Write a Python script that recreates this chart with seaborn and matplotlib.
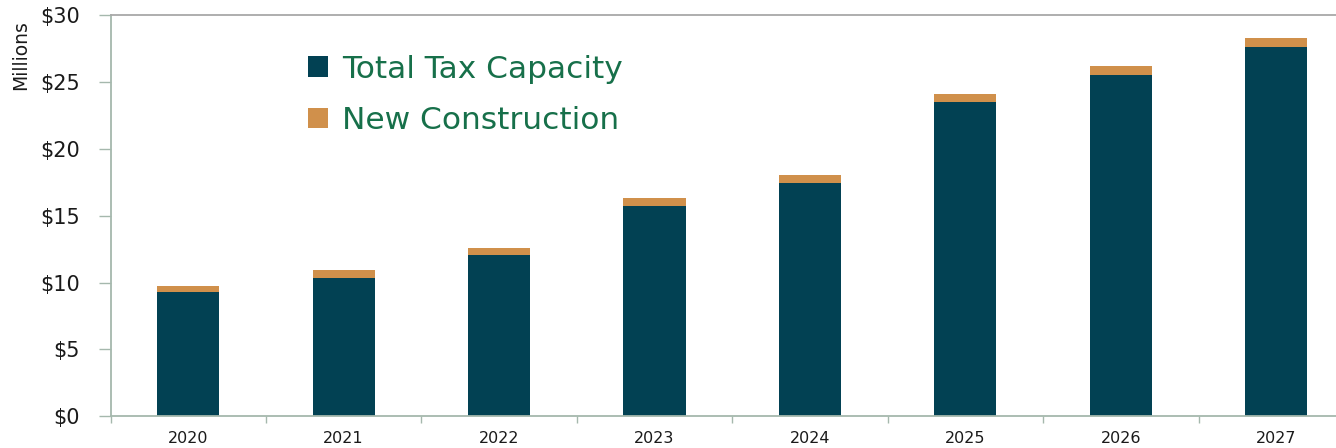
import matplotlib
matplotlib.use("Agg")
import matplotlib.pyplot as plt
from matplotlib.patches import Patch
from matplotlib.ticker import FixedLocator
import seaborn as sns
import pandas as pd

# Tax capacity by year, in millions of dollars
years = ["2020", "2021", "2022", "2023", "2024", "2025", "2026", "2027"]
total_tax_capacity = [9.32, 10.37, 12.07, 15.70, 17.45, 23.50, 25.58, 27.63]
new_construction = [0.45, 0.56, 0.53, 0.63, 0.63, 0.65, 0.67, 0.65]
y_ticks = [0, 5, 10, 15, 20, 25, 30]
y_tick_labels = ["$0", "$5", "$10", "$15", "$20", "$25", "$30"]

DARK = "#024153"
ORANGE = "#D0904B"
GREEN_TEXT = "#17704A"
SPINE = "#A5B8AD"

sns.set_theme(style="white")
plt.rcParams["font.family"] = ["DejaVu Sans"]

df = pd.DataFrame({
    "year": years,
    "tax": total_tax_capacity,
    "stack_top": [t + n for t, n in zip(total_tax_capacity, new_construction)],
})

fig = plt.figure(figsize=(13.36, 4.48), dpi=100)
ax = fig.add_axes([110.5 / 1336, 1 - 416 / 448, 1243.5 / 1336, 400.5 / 448])

# Stacked bars: the full stack in orange, the base series drawn over it
sns.barplot(data=df, x="year", y="stack_top", color=ORANGE, width=0.4,
            saturation=1, ax=ax, edgecolor="none")
sns.barplot(data=df, x="year", y="tax", color=DARK, width=0.4,
            saturation=1, ax=ax, edgecolor="none")

ax.set_xlim(-0.5, len(years) - 0.5)
ax.set_ylim(0, 30)
ax.set_yticks(y_ticks)
ax.set_yticklabels(y_tick_labels, fontsize=15, color="#1a1a1a")
ax.set_xlabel("")
ax.set_ylabel("Millions", fontsize=13.5, color="#1a1a1a",
              family=["Liberation Sans Narrow", "DejaVu Sans"])
ax.yaxis.set_label_coords(-0.0645, 0.9)

ax.tick_params(axis="x", which="major", length=0, labelsize=11.5,
               labelcolor="#1a1a1a", pad=11)
ax.xaxis.set_minor_locator(FixedLocator([i + 0.5 for i in range(-1, len(years))]))
ax.tick_params(axis="x", which="minor", bottom=True, length=5, width=1,
               color=SPINE, direction="out")
ax.tick_params(axis="y", left=True, length=9, width=1, color=SPINE,
               direction="out", pad=13)

for side in ["left", "bottom"]:
    ax.spines[side].set_color(SPINE)
    ax.spines[side].set_linewidth(1.3)
ax.spines["top"].set_color("#A8A8A8")
ax.spines["top"].set_linewidth(1.3)
ax.spines["right"].set_visible(False)
ax.grid(False)

handles = [Patch(facecolor=DARK, edgecolor="none", label="Total Tax Capacity"),
           Patch(facecolor=ORANGE, edgecolor="none", label="New Construction")]
leg = fig.legend(handles=handles, loc="upper left",
                 bbox_to_anchor=(295 / 1336, 1 - 42 / 448),
                 frameon=False, fontsize=22.5, handlelength=0.65,
                 handleheight=0.65, handletextpad=0.45, labelspacing=0.72,
                 borderaxespad=0)
for t in leg.get_texts():
    t.set_color(GREEN_TEXT)

fig.savefig("out.png", dpi=100)
